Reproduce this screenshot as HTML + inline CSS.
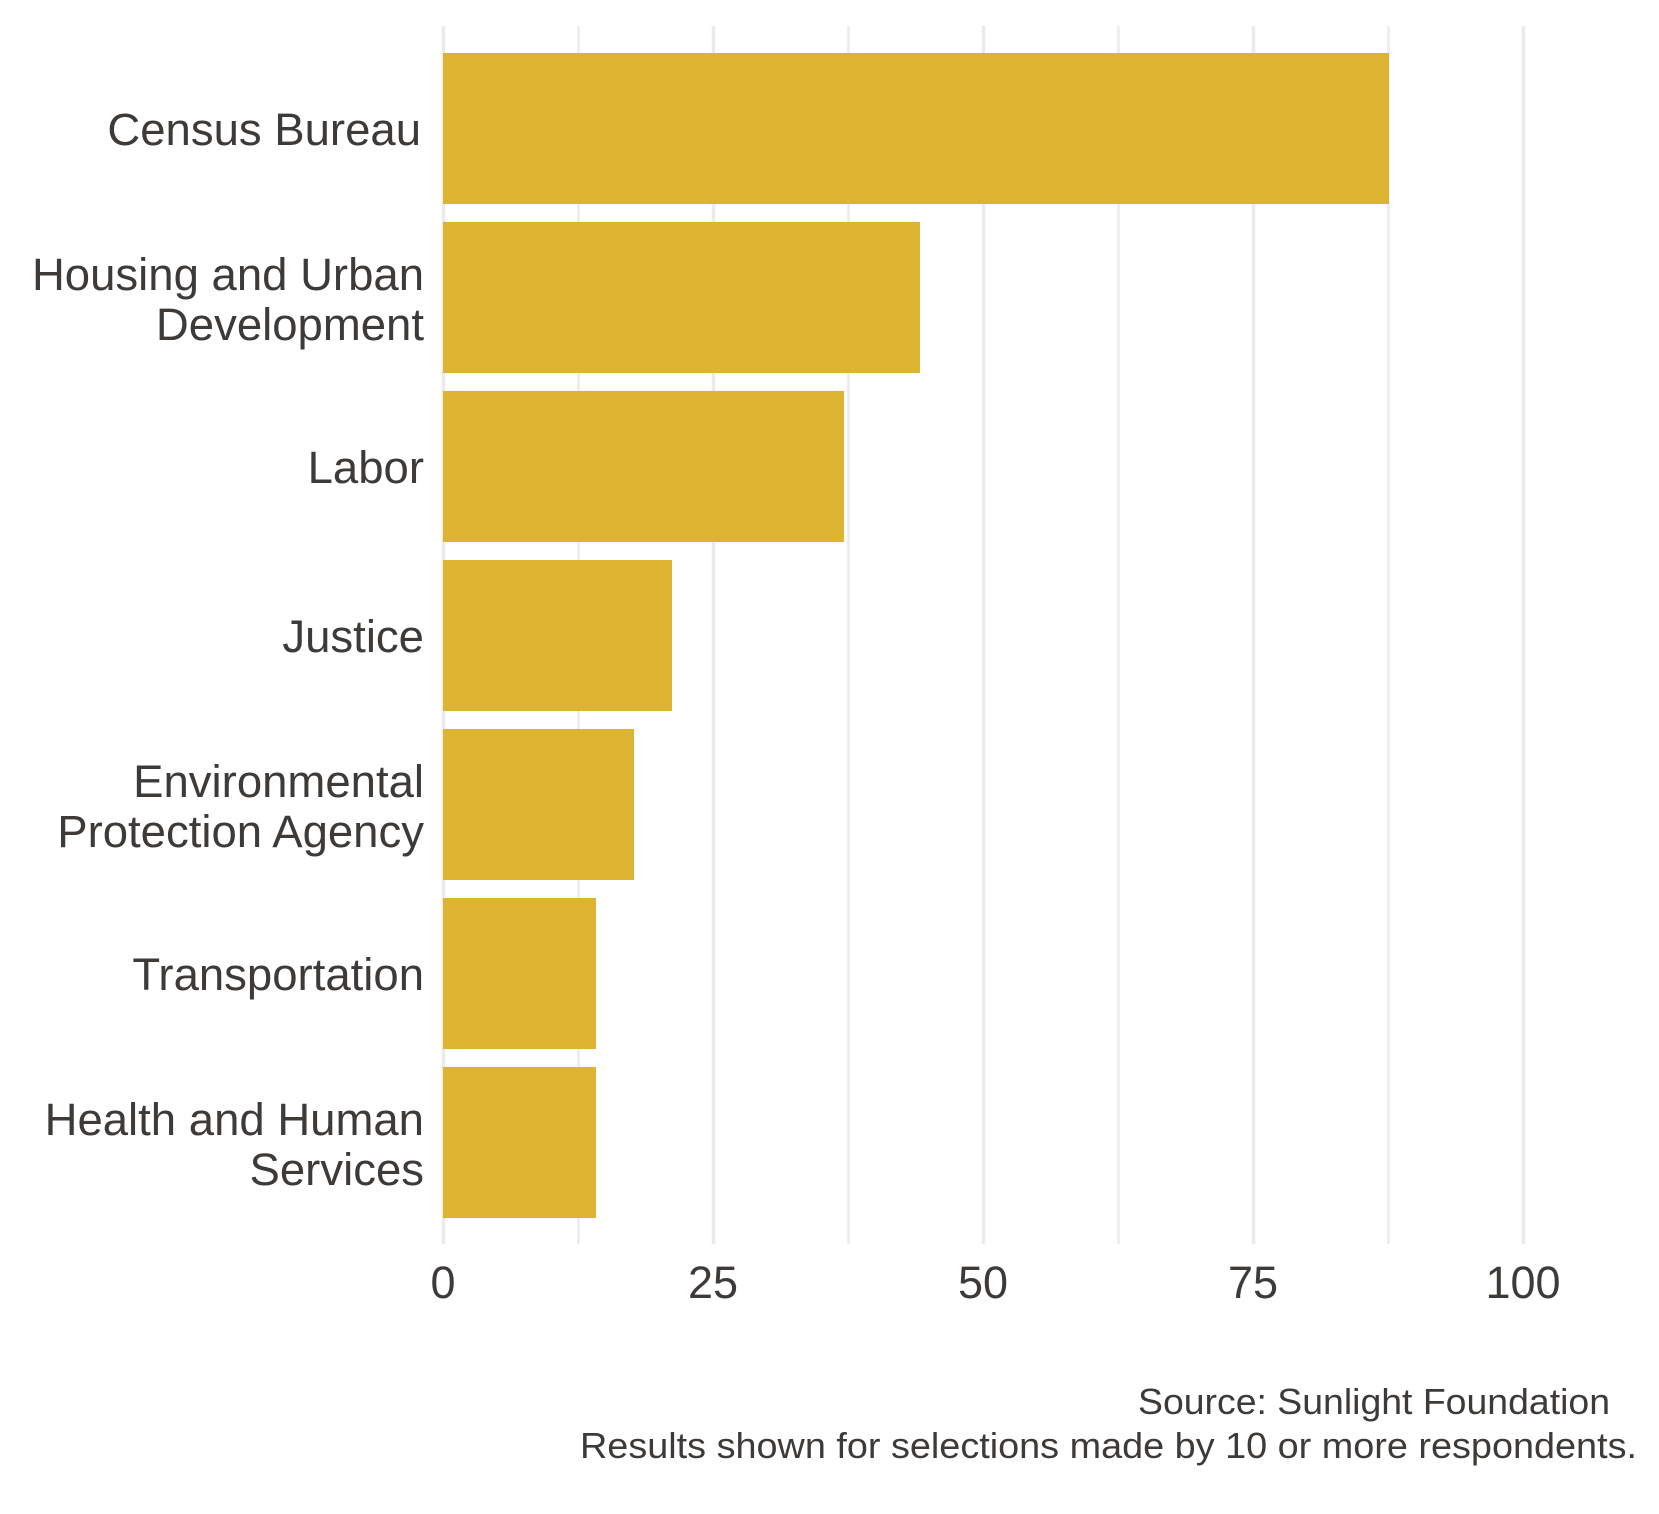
<!DOCTYPE html>
<html><head><meta charset="utf-8"><style>
html,body{margin:0;padding:0;background:#fff;}
svg text{font-family:"Liberation Sans",Arial,sans-serif;fill:#3d3a38;}
</style></head><body>
<svg width="1659" height="1509" viewBox="0 0 1659 1509" xmlns="http://www.w3.org/2000/svg">
<g stroke="#ebebeb">
<line x1="578.5" y1="26" x2="578.5" y2="1244" stroke-width="2.5"/>
<line x1="848.5" y1="26" x2="848.5" y2="1244" stroke-width="2.5"/>
<line x1="1118.5" y1="26" x2="1118.5" y2="1244" stroke-width="2.5"/>
<line x1="1388.5" y1="26" x2="1388.5" y2="1244" stroke-width="2.5"/>
<line x1="443.5" y1="26" x2="443.5" y2="1244" stroke-width="3.5"/>
<line x1="713.5" y1="26" x2="713.5" y2="1244" stroke-width="3.5"/>
<line x1="983.5" y1="26" x2="983.5" y2="1244" stroke-width="3.5"/>
<line x1="1253.5" y1="26" x2="1253.5" y2="1244" stroke-width="3.5"/>
<line x1="1523.5" y1="26" x2="1523.5" y2="1244" stroke-width="3.5"/>
</g>
<g fill="#ddb332">
<rect x="443" y="53" width="946" height="151"/>
<rect x="443" y="222" width="477" height="151"/>
<rect x="443" y="391" width="401" height="151"/>
<rect x="443" y="560" width="229" height="151"/>
<rect x="443" y="729" width="191" height="151"/>
<rect x="443" y="898" width="153" height="151"/>
<rect x="443" y="1067" width="153" height="151"/>
</g>
<g font-size="45.5" text-anchor="end">
<text x="421" y="145">Census Bureau</text>
<text x="424" y="290">Housing and Urban</text>
<text x="424" y="340">Development</text>
<text x="424" y="483">Labor</text>
<text x="424" y="652">Justice</text>
<text x="424" y="797">Environmental</text>
<text x="424" y="847">Protection Agency</text>
<text x="424" y="990">Transportation</text>
<text x="424" y="1135">Health and Human</text>
<text x="424" y="1185">Services</text>
</g>
<g font-size="45" text-anchor="middle">
<text x="443" y="1298">0</text>
<text x="713" y="1298">25</text>
<text x="983" y="1298">50</text>
<text x="1253" y="1298">75</text>
<text x="1523" y="1298">100</text>
</g>
<g font-size="36">
<text x="1138" y="1414" textLength="472" lengthAdjust="spacingAndGlyphs">Source: Sunlight Foundation</text>
<text x="580" y="1458" textLength="1057" lengthAdjust="spacingAndGlyphs">Results shown for selections made by 10 or more respondents.</text>
</g>
</svg>
</body></html>
